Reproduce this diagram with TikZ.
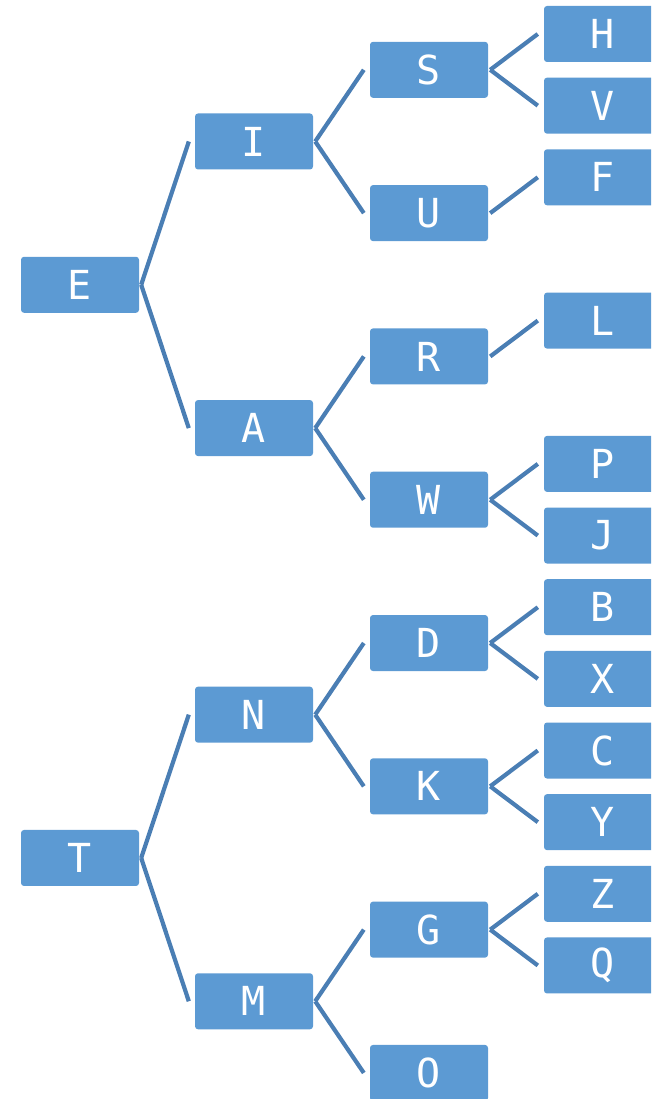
\documentclass[tikz,border=0pt]{standalone}
\usepackage{fontspec}
\newfontfamily\boxfont{DejaVu Sans Mono}
\definecolor{boxfill}{RGB}{92,154,211}
\definecolor{linecol}{RGB}{74,126,180}
\begin{document}
\begin{tikzpicture}[x=1pt,y=-1pt,
  tbox/.style={fill=boxfill,rounded corners=3pt,minimum width=118pt,minimum height=56pt,
    inner sep=0pt,text=white,font=\boxfont\fontsize{40}{40}\selectfont},
  conn/.style={draw=linecol,line width=4.2pt}]
\useasboundingbox (0,0) rectangle (651,1099);
\clip (0,0) rectangle (651,1099);
\def\ky#1{34+71.65*#1}
% level 1
\node[tbox] (E) at (80,{\ky{3.5}}) {E};
\node[tbox] (T) at (80,{\ky{11.5}}) {T};
% level 2
\node[tbox] (I) at (254,{\ky{1.5}}) {I};
\node[tbox] (A) at (254,{\ky{5.5}}) {A};
\node[tbox] (N) at (254,{\ky{9.5}}) {N};
\node[tbox] (M) at (254,{\ky{13.5}}) {M};
% level 3
\node[tbox] (S) at (429,{\ky{0.5}}) {S};
\node[tbox] (U) at (429,{\ky{2.5}}) {U};
\node[tbox] (R) at (429,{\ky{4.5}}) {R};
\node[tbox] (W) at (429,{\ky{6.5}}) {W};
\node[tbox] (D) at (429,{\ky{8.5}}) {D};
\node[tbox] (K) at (429,{\ky{10.5}}) {K};
\node[tbox] (G) at (429,{\ky{12.5}}) {G};
\node[tbox] (O) at (429,{\ky{14.5}}) {O};
% leaves
\node[tbox] (H) at (603,{\ky{0}}) {H};
\node[tbox] (V) at (603,{\ky{1}}) {V};
\node[tbox] (F) at (603,{\ky{2}}) {F};
\node[tbox] (L) at (603,{\ky{4}}) {L};
\node[tbox] (P) at (603,{\ky{6}}) {P};
\node[tbox] (J) at (603,{\ky{7}}) {J};
\node[tbox] (B) at (603,{\ky{8}}) {B};
\node[tbox] (X) at (603,{\ky{9}}) {X};
\node[tbox] (C) at (603,{\ky{10}}) {C};
\node[tbox] (Y) at (603,{\ky{11}}) {Y};
\node[tbox] (Z) at (603,{\ky{12}}) {Z};
\node[tbox] (Q) at (603,{\ky{13}}) {Q};
% connectors
\foreach \p/\c in {E/I,E/A,T/N,T/M,I/S,I/U,A/R,A/W,N/D,N/K,M/G,M/O,
  S/H,S/V,U/F,R/L,W/P,W/J,D/B,D/X,K/C,K/Y,G/Z,G/Q}
  \draw[conn] ([xshift=2pt]\p.east) -- ([xshift=-6pt]\c.west);
\end{tikzpicture}
\end{document}
